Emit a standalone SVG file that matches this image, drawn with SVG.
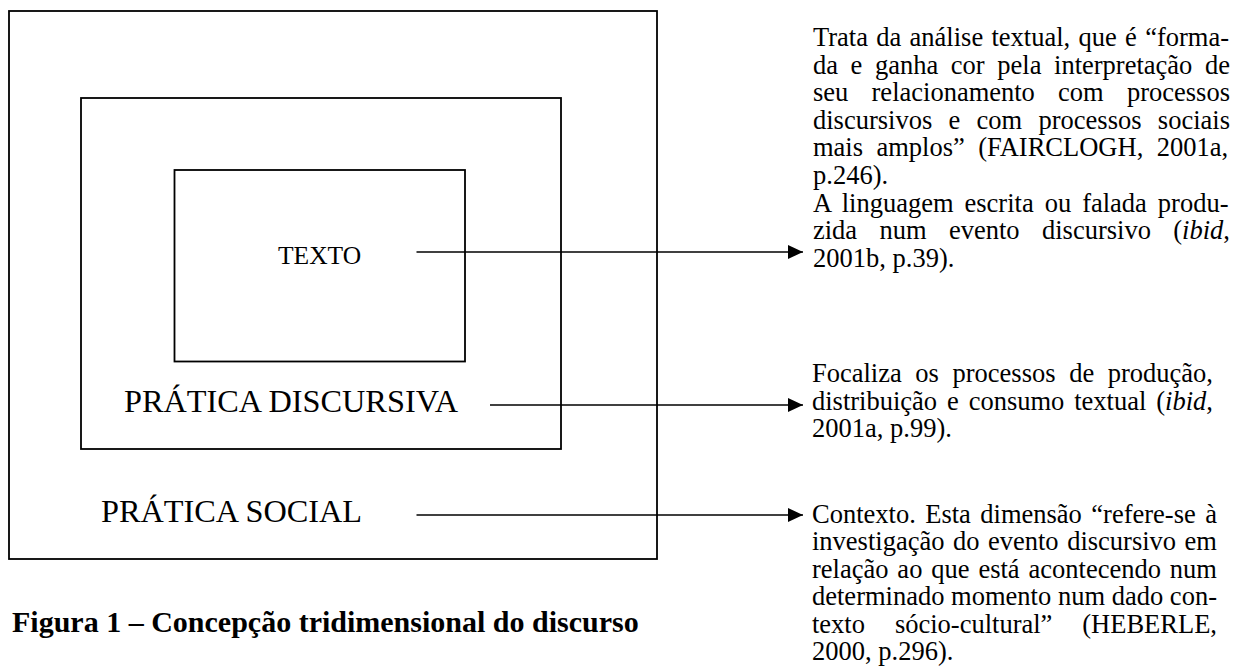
<svg xmlns="http://www.w3.org/2000/svg" width="1253" height="669" viewBox="0 0 1253 669">
<style>
  .box { fill: none; stroke: #000; stroke-width: 1.8; }
  .conn { stroke: #000; stroke-width: 1.7; fill: none; }
  .lbl { font-family: "Liberation Serif", "Times New Roman", serif; fill: #000; }
  .body { font-family: "Liberation Serif", "Times New Roman", serif; font-size: 26.5px; fill: #000; }
  .cap { font-family: "Liberation Serif", "Times New Roman", serif; font-weight: bold; fill: #000; }
</style>
<defs>
  <marker id="arrow" markerUnits="userSpaceOnUse" markerWidth="16" markerHeight="14" refX="15" refY="7" orient="auto">
    <path d="M0,0 L15,7 L0,14 z" fill="#000"/>
  </marker>
</defs>
<rect width="1253" height="669" fill="#fff"/>

<g id="social">
  <rect class="box" x="9" y="11" width="648" height="548"/>
  <text class="lbl" x="101" y="521.7" font-size="32.3">PRÁTICA SOCIAL</text>
</g>
<g id="discursiva">
  <rect class="box" x="81" y="98" width="480" height="351"/>
  <text class="lbl" x="124" y="411.7" font-size="32.3">PRÁTICA DISCURSIVA</text>
</g>
<g id="texto">
  <rect class="box" x="174.5" y="170" width="290.5" height="191.5"/>
  <text class="lbl" x="278" y="264" font-size="25.5">TEXTO</text>
</g>

<g id="connectors">
  <line class="conn" x1="416.5" y1="252" x2="803" y2="252" marker-end="url(#arrow)"/>
  <line class="conn" x1="490" y1="405" x2="803" y2="405" marker-end="url(#arrow)"/>
  <line class="conn" x1="416.5" y1="515" x2="803" y2="515" marker-end="url(#arrow)"/>
</g>

<g id="desc-texto" class="body">
  <text x="813" y="46" style="word-spacing:1.68px">Trata da análise textual, que é “forma-</text>
  <text x="813" y="73.6" style="word-spacing:5.98px">da e ganha cor pela interpretação de</text>
  <text x="813" y="101.2" style="word-spacing:16.59px">seu relacionamento com processos</text>
  <text x="813" y="128.8" style="word-spacing:9.67px">discursivos e com processos sociais</text>
  <text x="813" y="156.4" style="word-spacing:6.76px">mais amplos” (FAIRCLOGH, 2001a,</text>
  <text x="813" y="184">p.246).</text>
  <text x="813" y="211.6" style="word-spacing:4.36px">A linguagem escrita ou falada produ-</text>
  <text x="813" y="239.2" style="word-spacing:15.74px">zida num evento discursivo (<tspan font-style="italic">ibid</tspan>,</text>
  <text x="813" y="266.8">2001b, p.39).</text>
</g>

<g id="desc-discursiva" class="body">
  <text x="812" y="382" style="word-spacing:6.97px">Focaliza os processos de produção,</text>
  <text x="812" y="409.5" style="word-spacing:3.27px">distribuição e consumo textual (<tspan font-style="italic">ibid</tspan>,</text>
  <text x="812" y="437">2001a, p.99).</text>
</g>

<g id="desc-social" class="body">
  <text x="812" y="522.5" style="word-spacing:2.82px">Contexto. Esta dimensão “refere-se à</text>
  <text x="812" y="550" style="word-spacing:1.89px">investigação do evento discursivo em</text>
  <text x="812" y="577.5" style="word-spacing:2.26px">relação ao que está acontecendo num</text>
  <text x="812" y="605" style="word-spacing:0.05px">determinado momento num dado con-</text>
  <text x="812" y="632.5" style="word-spacing:23.28px">texto sócio-cultural” (HEBERLE,</text>
  <text x="812" y="660">2000, p.296).</text>
</g>

<g id="caption">
  <text class="cap" x="12" y="631.7" font-size="30">Figura 1 – Concepção tridimensional do discurso</text>
</g>
</svg>
